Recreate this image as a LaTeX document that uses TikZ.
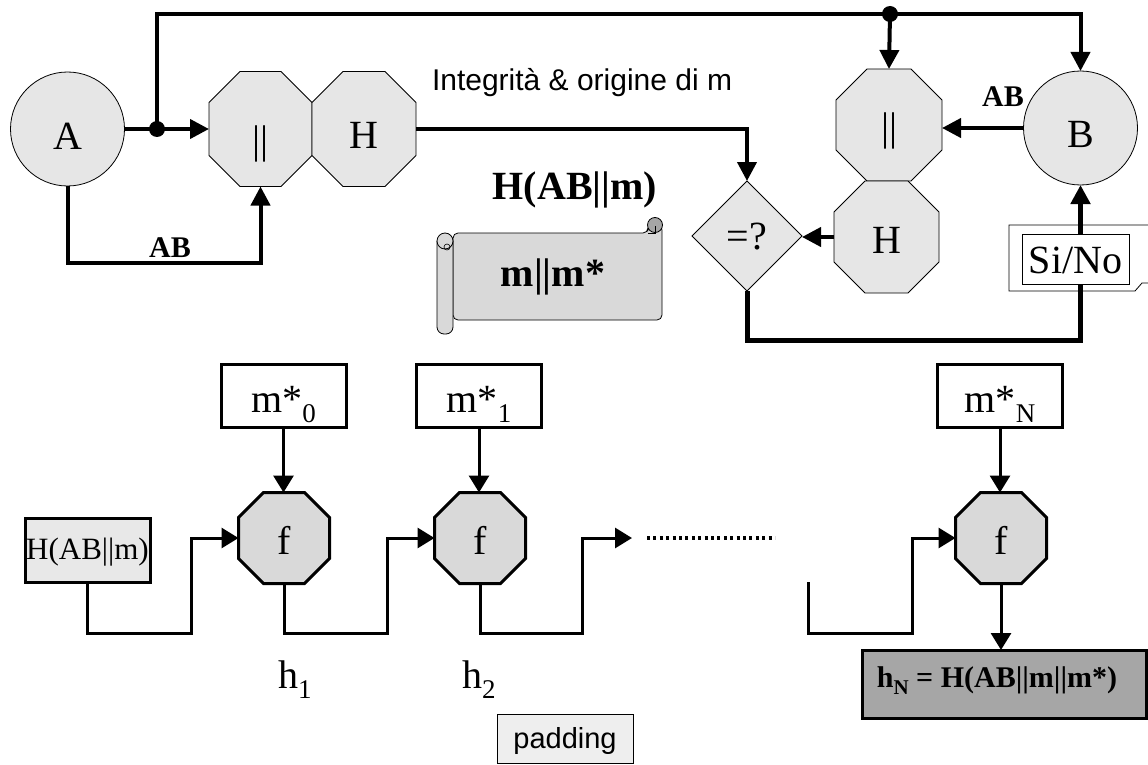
\documentclass[tikz,border=0pt]{standalone}
\usepackage{fontspec}
\setmainfont{Liberation Serif}
\newfontfamily\arialfont{Liberation Sans}
\usetikzlibrary{arrows.meta,shapes.geometric,calc}
\definecolor{lg}{HTML}{E6E6E6}
\definecolor{fg}{HTML}{D9D9D9}
\definecolor{sg}{HTML}{D9D9D9}
\definecolor{cg}{HTML}{A6A6A6}
\definecolor{hbg}{HTML}{E8E8E8}
\definecolor{pg}{HTML}{EEEEEE}
\definecolor{hng}{HTML}{A6A6A6}
\newcommand\fsz[1]{\fontsize{#1}{#1}\selectfont}
\newcommand\sbs[1]{\raisebox{-10pt}{\fsz{27}#1}}
\newcommand\octo[7]{%
  \node[minimum width=#4pt, minimum height=#5pt, inner sep=0pt, outer sep=0pt] (#1) at (#2,#3) {};
  \draw[#7] ([xshift=#6pt]#1.north west) -- ([xshift=-#6pt]#1.north east) -- ([yshift=-#6pt]#1.north east) -- ([yshift=#6pt]#1.south east) -- ([xshift=-#6pt]#1.south east) -- ([xshift=#6pt]#1.south west) -- ([yshift=#6pt]#1.south west) -- ([yshift=-#6pt]#1.north west) -- cycle;
}
\begin{document}
\begin{tikzpicture}[x=1pt,y=-1pt,
  every node/.style={inner sep=0pt, outer sep=0pt},
  conn/.style={line width=4pt, -{Triangle[length=19pt,width=19pt]}},
  conn3/.style={line width=3pt, -{Triangle[length=17pt,width=20pt]}},
  circ/.style={circle, draw, line width=0.8pt, fill=lg, minimum size=114pt},
  octtop/.style={draw, line width=0.8pt, fill=lg},
  octf/.style={draw, line width=3pt, fill=fg},
  mbox/.style={draw, line width=3pt, fill=white, minimum width=125pt, minimum height=63pt},
  T/.style={font=\fsz{40}},
  bars/.style={font=\fsz{40}},
  lbl/.style={font=\bfseries\fsz{30}},
  dot/.style={circle, fill=black, minimum size=16pt},
]
\fill[white] (0,0) rectangle (1148,765);
\useasboundingbox (0,0) rectangle (1148,765);

% ---------- top left ----------
\node[circ] (A) at (67.5,129) {};
\node[T] (Atxt) at (67.5,136) {A};
\octo{o1}{260.5}{129}{103}{115}{31}{octtop}
\octo{h1}{364}{129}{104}{115}{31}{octtop}
\node[bars] (o1t) at (260.5,144) {||};
\node[T] (h1t) at (364,135) {H};

\coordinate (j1) at (157,129);
\coordinate (j2) at (890,14);
\draw[conn] (A.east) -- (o1.west);
\draw[conn] (A.south) -- ++(0,77) -| (o1.south);
\node[lbl] (ab1) at (170,248) {AB};

% ---------- top right ----------
\node[circ] (B) at (1080.5,128) {};
\node[T] (Btxt) at (1080.5,134) {B};
\octo{o3}{889}{125}{106}{112}{31}{octtop}
\octo{h2}{886.5}{237}{105}{112}{31}{octtop}
\node[bars] (o3t) at (889,131) {||};
\node[T] (h2t) at (886.5,240) {H};
\node[diamond, draw, line width=0.8pt, fill=lg, minimum width=110pt, minimum height=110pt, aspect=1] (D) at (747,236) {};
\node[T] (Dtxt) at (747,237) {=?};

\draw[conn] (j1) |- (j2) -| (B.north);
\draw[conn] (j2) -- (o3.north);
\node[dot] (j1d) at (j1) {};
\node[dot] (j2d) at (j2) {};

\draw[conn] (h1.east) -| (D.north);
\draw[conn] (B.west) -- (B.west -| o3.east);
\node[lbl] (ab2) at (1003,97) {AB};
\draw[conn] (h2.west) -- (h2.west -| D.east);

\draw[line width=5pt, -{Triangle[length=19pt,width=19pt]}] (D.south) -- ++(0,49) -| (B.south);
\draw[line width=0.8pt] (1148,225) -- (1009,225) -- (1009,291) -- (1135,291) -- (1142,283) -- (1148,283);
\node[draw, line width=0.8pt, fill=white, minimum width=107pt, minimum height=50pt] (sino) at (1075.5,259) {};
\node[T] (sinot) at (1075.5,260) {Si/No};

% ---------- middle texts ----------
\node[font=\arialfont\fsz{30}, anchor=west] (integ) at (432,83) {Integrità \& origine di m};
\node[font=\bfseries\fsz{40}] (hab) at (575,190) {H(AB||m)};

% scroll
\draw[fill=sg, line width=0.8pt, rounded corners=5pt] (453,233) -- (648,233) -- (648,225) -- (662,225) -- (662,320) -- (453,320) -- cycle;
\draw[fill=cg, line width=0.8pt] (655,225) circle[radius=7.5pt];
\draw[line width=0.6pt] (648,233) -- (655,233) -- (655,226);
\draw[fill=sg, line width=0.8pt, rounded corners=7pt] (437,241) -- (437,334) -- (453,334) -- (453,241);
\draw[fill=sg, line width=0.8pt] (445,241) circle[radius=8pt];
\draw[line width=0.6pt] (447,247) circle[radius=3pt];
\node[font=\bfseries\fsz{40}] (mm) at (553,277) {m||m*};

% ---------- bottom chain ----------
\node[draw, line width=3pt, fill=hbg, minimum width=125pt, minimum height=64pt] (hb) at (87.5,550) {};
\node[font=\fsz{31}] (hbt) at (87.5,552) {H(AB||m)};

\node[mbox] (m0) at (283.5,395.5) {};
\node[mbox] (m1) at (479,395.5) {};
\node[mbox] (mN) at (1000,395.5) {};
\node[T, anchor=base] (m0t) at (283.5,412) {m*\sbs{0}};
\node[T, anchor=base] (m1t) at (479,412) {m*\sbs{1}};
\node[T, anchor=base] (mNt) at (1000,412) {m*\sbs{N}};

\octo{f1}{284}{538}{91}{91}{25}{octf}
\octo{f2}{480}{538}{91}{91}{25}{octf}
\octo{f3}{1001}{538}{91}{91}{25}{octf}
\node[T] (f1t) at (284,540) {f};
\node[T] (f2t) at (480,540) {f};
\node[T] (f3t) at (1001,540) {f};

\draw[conn3] (m0.south) -- (m0.south |- f1.north);
\draw[conn3] (m1.south) -- (m1.south |- f2.north);
\draw[conn3] (mN.south) -- (mN.south |- f3.north);

\coordinate (c1) at (191,633);
\coordinate (c2) at (387,633);
\coordinate (c3) at (582,633);
\coordinate (e3) at (632,538);
\coordinate (d1) at (647,538);
\coordinate (d2) at (775,538);
\coordinate (s4) at (808,582);
\coordinate (c4) at (912,633);
\draw[conn3] (hb.south) |- (c1) |- (f1.west);
\draw[conn3] (f1.south) |- (c2) |- (f2.west);
\draw[conn3] (f2.south) |- (c3) |- (e3);
\draw[line width=4pt, dash pattern=on 3pt off 3.4pt] (d1) -- (d2);
\draw[conn3] (s4) |- (c4) |- (f3.west);

\node[draw, line width=3pt, fill=hng, minimum width=284pt, minimum height=68pt] (hN) at (1004,684) {};
\node[font=\bfseries\fsz{30}, anchor=base] (hNt) at (997,687) {h\raisebox{-7pt}{\fsz{21}N} = H(AB||m||m*)};
\draw[conn3] (f3.south) -- (f3.south |- hN.north);

\node[T, anchor=base west] (h1l) at (278,688) {h\sbs{1}};
\node[T, anchor=base west] (h2l) at (462,688) {h\sbs{2}};

\node[draw, line width=1pt, fill=pg, minimum width=136pt, minimum height=49pt] (pad) at (565,738.5) {};
\node[font=\arialfont\fsz{29}] (padt) at (565,741) {padding};
\end{tikzpicture}
\end{document}
